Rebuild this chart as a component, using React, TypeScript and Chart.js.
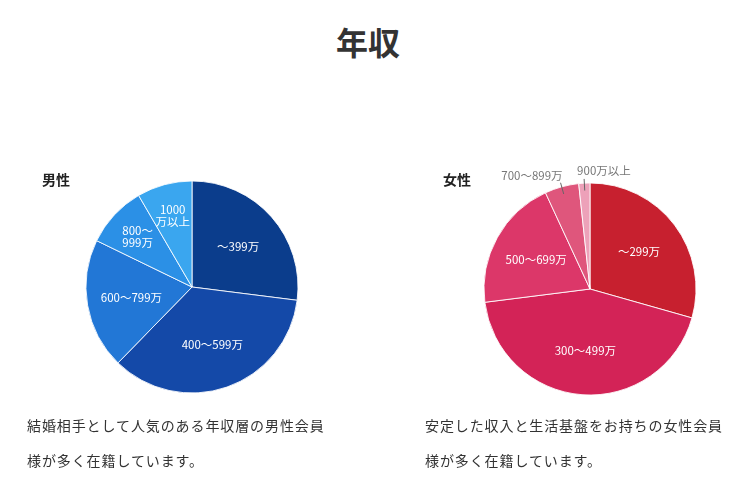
import React, { useEffect, useRef } from "react";
import { Chart, registerables } from "chart.js";

Chart.register(...registerables);

const pageTitle = "年収";

const maleHeading = "男性";
const maleCategories: (string | string[])[] = ["〜399万", "400〜599万", "600〜799万", ["800〜", "999万"], ["1000", "万以上"]];
const maleValues = [27, 35.3, 19.9, 9.4, 8.4];
const maleColors = ["#0b3d8c", "#1449a8", "#2277d6", "#2b90e6", "#3aa6ef"];
const maleCaption = ["結婚相手として人気のある年収層の男性会員", "様が多く在籍しています。"];

const femaleHeading = "女性";
const femaleCategories: (string | string[])[] = ["〜299万", "300〜499万", "500〜699万", "700〜899万", "900万以上"];
const femaleValues = [29.4, 43.6, 20.1, 5.2, 1.7];
const femaleColors = ["#c7202f", "#d32357", "#dc3769", "#df567c", "#eda1b9"];
const femaleCaption = ["安定した収入と生活基盤をお持ちの女性会員", "様が多く在籍しています。"];

const FONT = "'Noto Sans CJK JP', 'Noto Sans', sans-serif";

const sliceLabels = {
  id: "sliceLabels",
  afterDatasetsDraw(chart: any) {
    const ctx = chart.ctx;
    const meta = chart.getDatasetMeta(0);
    const labels = chart.data.labels as (string | string[])[];
    let outsideCount = 0;
    ctx.save();
    meta.data.forEach((arc: any, i: number) => {
      const { x, y, startAngle, endAngle, outerRadius } = arc.getProps(
        ["x", "y", "startAngle", "endAngle", "outerRadius"],
        true
      );
      const span = endAngle - startAngle;
      const mid = (startAngle + endAngle) / 2;
      const lines = Array.isArray(labels[i]) ? (labels[i] as string[]) : [labels[i] as string];
      const lh = 12;
      if (span < (22 * Math.PI) / 180) {
        const r1 = outerRadius * 0.93;
        const r2 = outerRadius * 1.04;
        const sx = x + Math.cos(mid) * r1;
        const sy = y + Math.sin(mid) * r1;
        const ex = x + Math.cos(mid) * r2;
        const ey = y + Math.sin(mid) * r2;
        ctx.strokeStyle = "#666";
        ctx.lineWidth = 1;
        ctx.beginPath();
        ctx.moveTo(sx, sy);
        ctx.lineTo(ex, ey);
        ctx.stroke();
        ctx.fillStyle = "#777";
        ctx.font = `11.5px ${FONT}`;
        ctx.textBaseline = "middle";
        if (outsideCount === 0) {
          ctx.textAlign = "right";
          ctx.fillText(lines.join(""), ex + 2, ey - 7);
        } else {
          ctx.textAlign = "left";
          ctx.fillText(lines.join(""), ex - 7, ey - 8);
        }
        outsideCount++;
      } else {
        const frac = span < (45 * Math.PI) / 180 ? 0.7 : 0.58;
        const cx = x + Math.cos(mid) * outerRadius * frac;
        const cy = y + Math.sin(mid) * outerRadius * frac;
        ctx.fillStyle = "#ffffff";
        ctx.font = `11.5px ${FONT}`;
        ctx.textAlign = "center";
        ctx.textBaseline = "middle";
        lines.forEach((ln, k) => {
          ctx.fillText(ln, cx, cy + (k - (lines.length - 1) / 2) * lh);
        });
      }
    });
    ctx.restore();
  },
};

function PieChart(props: { labels: (string | string[])[]; values: number[]; colors: string[] }) {
  const ref = useRef<HTMLCanvasElement>(null);
  useEffect(() => {
    if (!ref.current) return;
    const chart = new Chart(ref.current, {
      type: "pie",
      data: {
        labels: props.labels as any,
        datasets: [
          {
            data: props.values,
            backgroundColor: props.colors,
            borderColor: "rgba(255,255,255,0.85)",
            borderWidth: 1,
            radius: 106,
          } as any,
        ],
      },
      options: {
        animation: false,
        responsive: false,
        maintainAspectRatio: false,
        plugins: {
          legend: { display: false },
          tooltip: { enabled: false },
        },
        layout: { padding: 0 },
      },
      plugins: [sliceLabels],
    });
    return () => chart.destroy();
  }, []);
  return <canvas ref={ref} width={260} height={260} style={{ width: 260, height: 260, display: "block" }} />;
}

export default function App() {
  const abs = (l: number, t: number): React.CSSProperties => ({ position: "absolute", left: l, top: t });
  const caption: React.CSSProperties = {
    fontFamily: FONT,
    fontSize: 14,
    letterSpacing: 0.9,
    color: "#333",
    whiteSpace: "nowrap",
    lineHeight: "20px",
  };
  const heading: React.CSSProperties = {
    fontFamily: FONT,
    fontSize: 14,
    fontWeight: 700,
    color: "#222",
    lineHeight: "20px",
    zIndex: 2,
  };
  return (
    <div style={{ position: "absolute", left: 0, top: 0, width: 750, height: 485, background: "#fff", overflow: "hidden" }}>
      <div
        style={{
          ...abs(0, 20),
          width: 736,
          textAlign: "center",
          fontFamily: FONT,
          fontSize: 32,
          fontWeight: 700,
          color: "#333",
          lineHeight: "42px",
        }}
      >
        {pageTitle}
      </div>
      <div style={{ ...abs(62, 157) }}>
        <PieChart labels={maleCategories} values={maleValues} colors={maleColors} />
      </div>
      <div style={{ ...abs(460, 159) }}>
        <PieChart labels={femaleCategories} values={femaleValues} colors={femaleColors} />
      </div>
      <div style={{ ...abs(42, 169), ...heading }}>{maleHeading}</div>
      <div style={{ ...abs(443, 169), ...heading }}>{femaleHeading}</div>
      <div style={{ ...abs(27, 415), ...caption }}>{maleCaption[0]}</div>
      <div style={{ ...abs(27, 450), ...caption }}>{maleCaption[1]}</div>
      <div style={{ ...abs(425, 415), ...caption }}>{femaleCaption[0]}</div>
      <div style={{ ...abs(425, 450), ...caption }}>{femaleCaption[1]}</div>
    </div>
  );
}
